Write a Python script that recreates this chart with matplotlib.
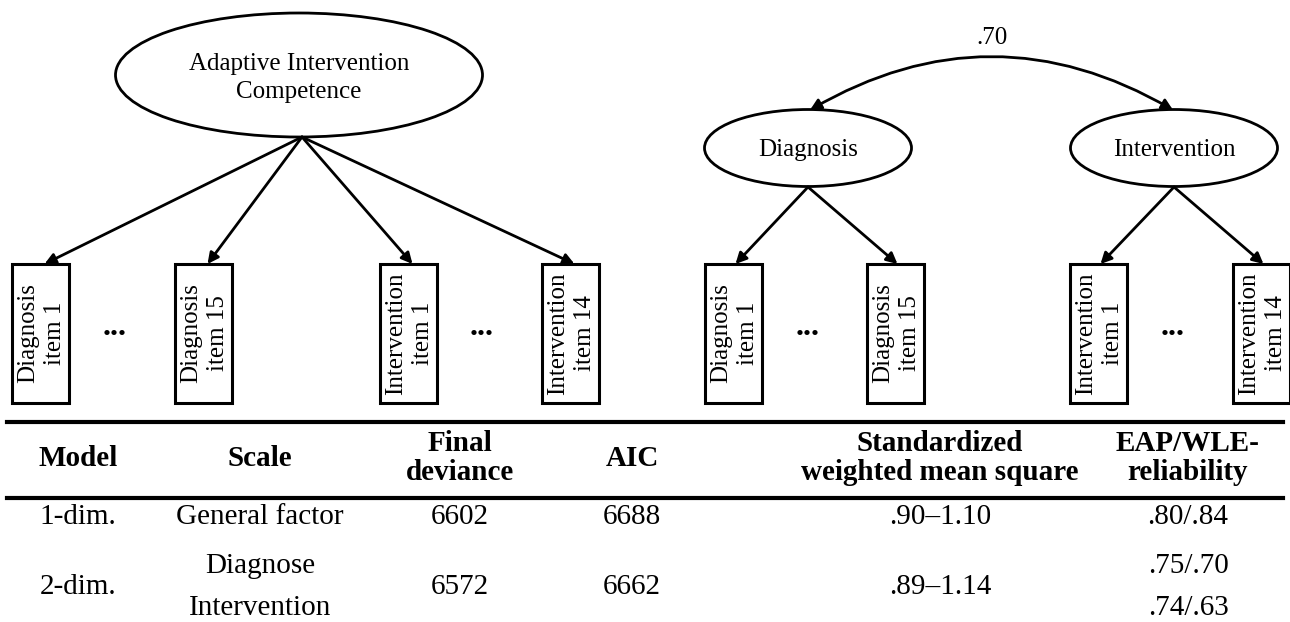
import matplotlib
matplotlib.use("Agg")
import matplotlib.pyplot as plt
from matplotlib.patches import Ellipse, Rectangle, FancyArrowPatch

plt.rcParams['font.family'] = ['Liberation Serif', 'DejaVu Serif']

# --- diagram content ---
general_factor = "Adaptive Intervention\nCompetence"
factors = ["Diagnosis", "Intervention"]
correlation = ".70"
items_1dim = ["Diagnosis\nitem 1", "Diagnosis\nitem 15", "Intervention\nitem 1", "Intervention\nitem 14"]
items_2dim = ["Diagnosis\nitem 1", "Diagnosis\nitem 15", "Intervention\nitem 1", "Intervention\nitem 14"]

# --- table content ---
headers = ["Model", "Scale", "Final\ndeviance", "AIC",
           "Standardized\nweighted mean square", "EAP/WLE-\nreliability"]
models = ["1-dim.", "2-dim."]
scales = [["General factor"], ["Diagnose", "Intervention"]]
final_deviance = ["6602", "6572"]
aic = ["6688", "6662"]
wms = [".90\u20131.10", ".89\u20131.14"]
reliability = [[".80/.84"], [".75/.70", ".74/.63"]]

fig = plt.figure(figsize=(12.9, 6.22), dpi=100)
ax = fig.add_axes([0, 0, 1, 1])
ax.set_xlim(0, 1290)
ax.set_ylim(622, 0)
ax.axis('off')

LW = 2.0
FS = 18
box_top, box_bot, box_w = 264, 403, 57
arrow_kw = dict(arrowstyle='-|>,head_length=0.5,head_width=0.25', lw=LW,
                color='k', shrinkA=0, shrinkB=0, mutation_scale=13)


def item_box(x0, label):
    ax.add_patch(Rectangle((x0, box_top), box_w, box_bot - box_top,
                           fill=False, lw=2.2, ec='k'))
    ax.text(x0 + box_w / 2 + 1, (box_top + box_bot) / 2, label, rotation=90,
            ha='center', va='center', multialignment='center',
            fontsize=FS, linespacing=1.3)


def dots(x):
    ax.text(x, 335, "...", ha='center', va='baseline', fontsize=23,
            fontweight='bold')


# left: one-dimensional model
ax.add_patch(Ellipse((299, 75), 367, 124, fill=False, lw=LW, ec='k'))
ax.text(299, 78, general_factor, ha='center', va='center', fontsize=FS,
        linespacing=1.35)
left_boxes = [12, 175, 380, 542]
for x0, lab in zip(left_boxes, items_1dim):
    item_box(x0, lab)
    ax.add_patch(FancyArrowPatch((302, 137), (x0 + box_w / 2 + 4, box_top), **arrow_kw))
dots(115)
dots(482)

# right: two-dimensional model
centers = [808, 1174]
for cx, name in zip(centers, factors):
    ax.add_patch(Ellipse((cx, 148), 207, 77, fill=False, lw=LW, ec='k'))
    ax.text(cx, 150, name, ha='center', va='center', fontsize=FS)
right_boxes = [705, 867, 1070, 1233]
for i, (x0, lab) in enumerate(zip(right_boxes, items_2dim)):
    item_box(x0, lab)
    cx = centers[i // 2]
    ax.add_patch(FancyArrowPatch((cx, 187), (x0 + box_w / 2 + 2, box_top), **arrow_kw))
dots(808)
dots(1173)

ax.add_patch(FancyArrowPatch((810, 110), (1173, 110),
                             connectionstyle='arc3,rad=-0.29',
                             arrowstyle='<|-|>,head_length=0.5,head_width=0.25',
                             lw=LW, color='k', shrinkA=0, shrinkB=0,
                             mutation_scale=13))
ax.text(992, 38, correlation, ha='center', va='center', fontsize=FS)

# table
col_x = [78, 260, 460, 632, 940, 1188]
ax.plot([7, 1283], [422, 422], color='k', lw=3)
ax.plot([7, 1283], [498, 498], color='k', lw=3)
for x, h in zip(col_x, headers):
    ax.text(x, 458, h, ha='center', va='center', fontsize=21,
            fontweight='bold', linespacing=1.05)

row_y = [517, 587]
sub_y = [[517], [566, 608]]
TF = 21
for r in range(2):
    ax.text(col_x[0], row_y[r], models[r], ha='center', va='center', fontsize=TF)
    for s, yy in zip(scales[r], sub_y[r]):
        ax.text(col_x[1], yy, s, ha='center', va='center', fontsize=TF)
    ax.text(col_x[2], row_y[r], final_deviance[r], ha='center', va='center', fontsize=TF)
    ax.text(col_x[3], row_y[r], aic[r], ha='center', va='center', fontsize=TF)
    ax.text(col_x[4], row_y[r], wms[r], ha='center', va='center', fontsize=TF)
    for s, yy in zip(reliability[r], sub_y[r]):
        ax.text(col_x[5], yy, s, ha='center', va='center', fontsize=TF)

fig.savefig("out.png", dpi=100)
